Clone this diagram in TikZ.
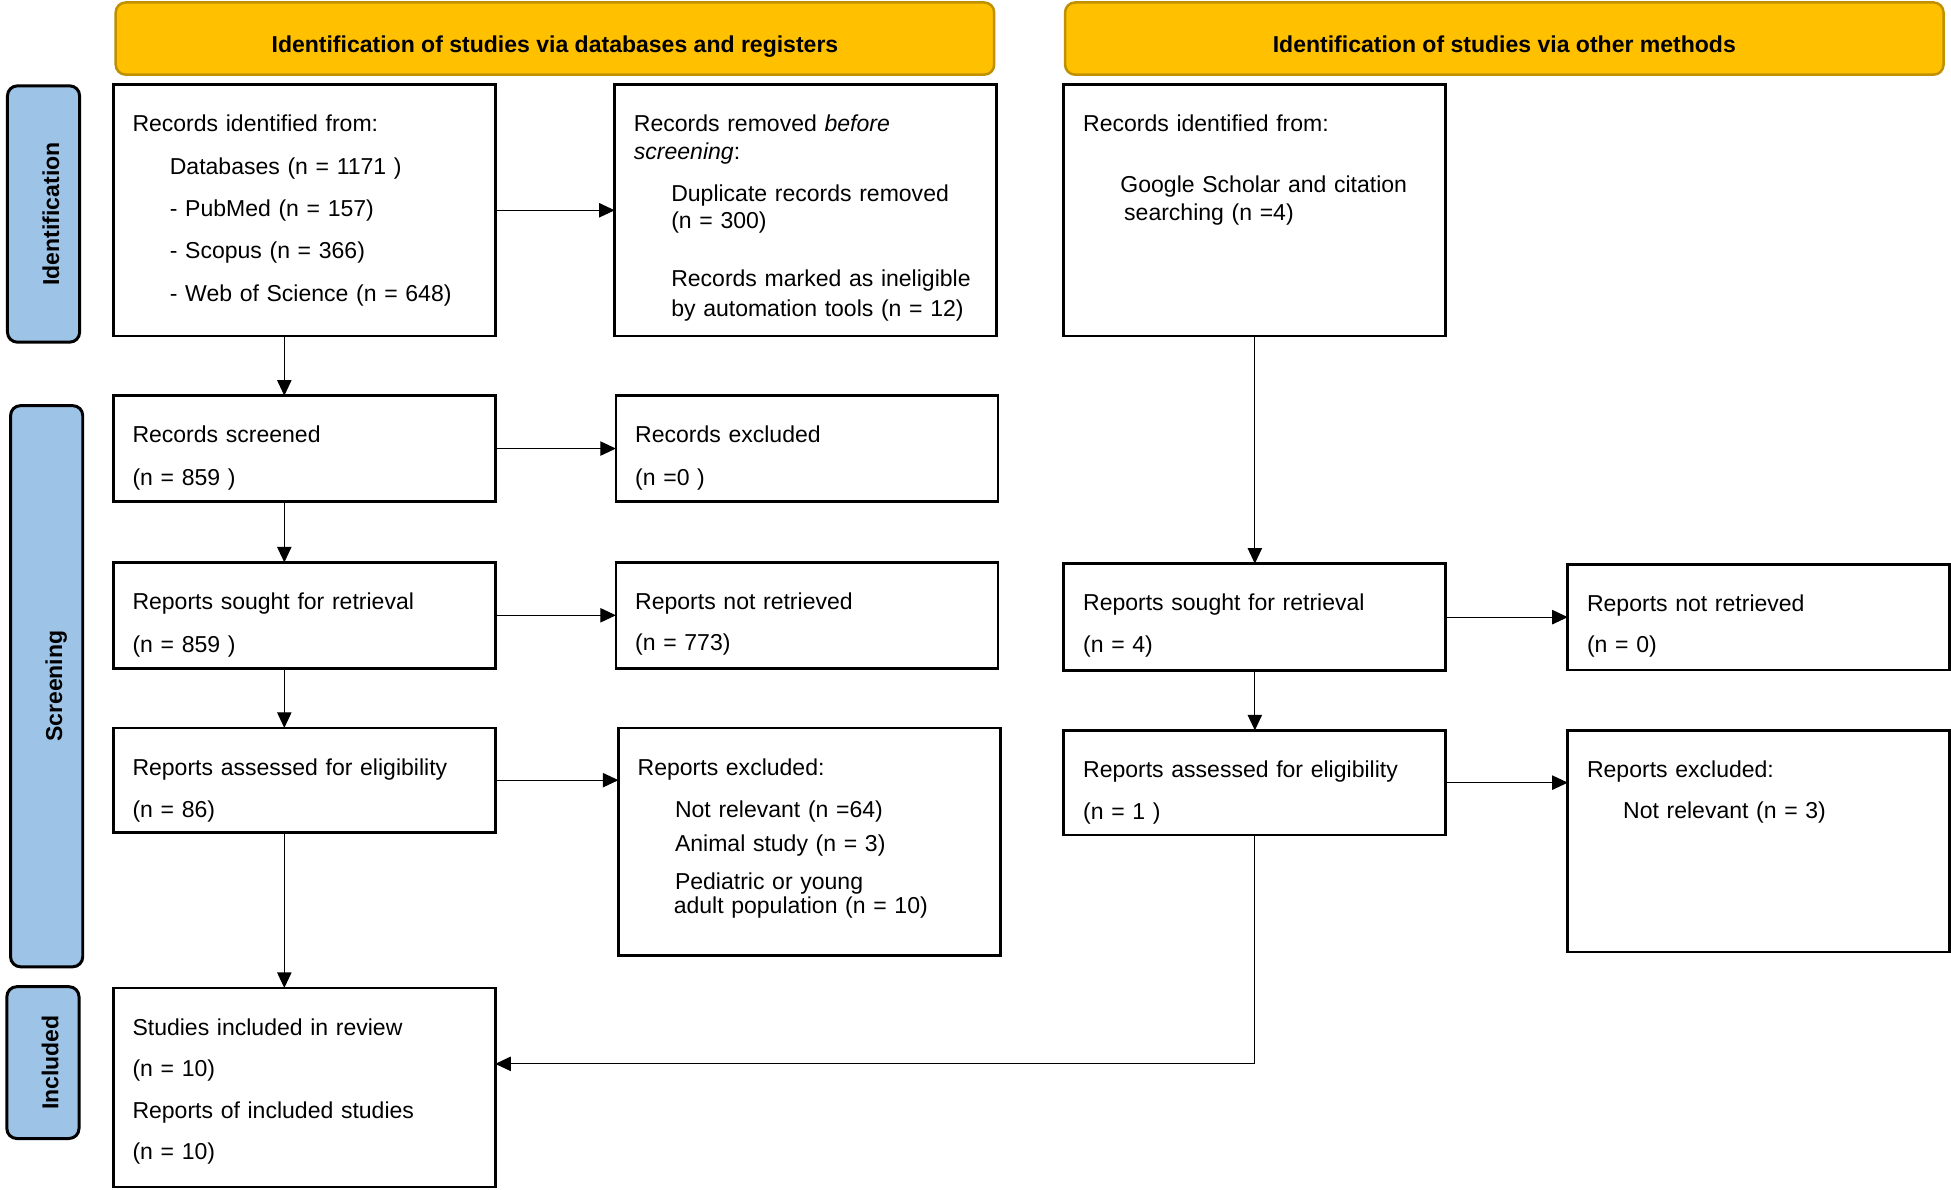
\documentclass[tikz,border=0pt]{standalone}
\usepackage{fontspec}
\setmainfont{Liberation Sans}
\usetikzlibrary{positioning, arrows.meta}
\definecolor{amarillo}{HTML}{FFC000}
\definecolor{dorado}{HTML}{BF9000}
\definecolor{celeste}{HTML}{9DC3E6}
\tikzset{flecha/.style={line width=1pt, -{Triangle[length=12.5pt, width=11.5pt]}}}

\begin{document}
\begin{tikzpicture}[
            x=1pt, y=-1pt,
            caja/.style={draw, line width=2.2pt, align=left, text width=276pt,
                inner xsep=15.5pt, inner ysep=0pt, outer sep=0pt, text height=38pt,
                font=\fontsize{18.5}{22}\selectfont},
            cabecera/.style={draw=dorado, fill=amarillo, line width=2pt, rounded corners=8pt,
                minimum width=706pt, minimum height=58pt, inner sep=0pt,
                text height=23pt, text depth=0pt, font=\fontsize{18.5}{22}\selectfont\bfseries},
            fase/.style={draw, fill=celeste, line width=2.4pt, rounded corners=8pt, rotate=90,
                minimum height=58pt, inner sep=0pt, text height=25pt, text depth=0pt,
                font=\fontsize{18.5}{22}\selectfont\bfseries}
        ]
            \useasboundingbox (0,0) rectangle (1568,955.6);

            \node[cabecera] (bases) at (446,31) {Identification of studies via databases and registers};
            \node[cabecera] (otros) at (1209,31) {Identification of studies via other methods};

            \node[fase, minimum width=206pt] (ident) at (35,172) {Identification};
            \node[fase, minimum width=451pt] (cribado) at (37.5,551.5) {Screening};
            \node[fase, minimum width=122pt] (incl) at (34.5,854) {Included};

            \node[caja, text depth=164pt, anchor=north west] (A) at (91,68) {Records identified from:\\[12pt]
                \hspace*{30pt}Databases (n = 1171 )\\[12pt]
                \hspace*{30pt}- PubMed (n = 157)\\[12pt]
                \hspace*{30pt}- Scopus (n = 366)\\[12pt]
                \hspace*{30pt}- Web of Science (n = 648)};
            \node[caja, text depth=164pt, right= 96pt of A] (B) {Records removed \emph{before}\\
                \emph{screening}:\\[12pt]
                \hspace*{30pt}Duplicate records removed\\
                \hspace*{30pt}(n = 300)\\[24pt]
                \hspace*{30pt}Records marked as ineligible\\[2pt]
                \hspace*{30pt}by automation tools (n = 12)};
            \node[caja, text depth=164pt, right= 54pt of B] (C) {Records identified from:\\[27pt]
                \hspace*{30pt}Google Scholar and citation\\
                \hspace*{33pt}searching (n =4)};

            \node[caja, text depth=47pt, below= 48pt of A] (D) {Records screened\\[12pt] (n = 859 )};
            \node[caja, text depth=47pt, right= 97pt of D] (E) {Records excluded\\[12pt] (n =0 )};
            \node[caja, text depth=47pt, below= 49pt of D] (F) {Reports sought for retrieval\\[12pt] (n = 859 )};
            \node[caja, text depth=47pt, right= 97pt of F] (G) {Reports not retrieved\\[11pt] (n = 773)};
            \node[caja, text depth=46pt, below= 48pt of F] (J) {Reports assessed for eligibility\\[12pt] (n = 86)};
            \node[caja, text depth=145pt, right= 99pt of J.north east, anchor=north west] (K) {Reports excluded:\\[12pt]
                \hspace*{30pt}Not relevant (n =64)\\[5pt]
                \hspace*{30pt}Animal study (n = 3)\\[9pt]
                \hspace*{30pt}Pediatric or young\\[-3pt]
                \hspace*{29pt}adult population (n = 10)};
            \node[caja, text depth=122pt, below= 125pt of J] (N) {Studies included in review\\[11pt]
                (n = 10)\\[12pt]
                Reports of included studies\\[11pt]
                (n = 10)};

            \node[caja, text depth=48pt, below= 183pt of C] (H) {Reports sought for retrieval\\[11pt] (n = 4)};
            \node[caja, text depth=47pt, right= 98pt of H] (I) {Reports not retrieved\\[11pt] (n = 0)};
            \node[caja, text depth=46pt, below= 48pt of H] (L) {Reports assessed for eligibility\\[12pt] (n = 1 )};
            \node[caja, text depth=140pt, right= 98pt of L.north east, anchor=north west] (M) {Reports excluded:\\[11pt]
                \hspace*{29pt}Not relevant (n = 3)};

            \draw[flecha] (A) -- (B);
            \draw[flecha] ([xshift=-16pt]A.south) -- ([xshift=-16pt]D.north);
            \draw[flecha] (D) -- (E);
            \draw[flecha] ([xshift=-16pt]D.south) -- ([xshift=-16pt]F.north);
            \draw[flecha] (F) -- (G);
            \draw[flecha] ([xshift=-16pt]F.south) -- ([xshift=-16pt]J.north);
            \draw[flecha] (J.east) -- (J.east -| K.west);
            \draw[flecha] ([xshift=-16pt]J.south) -- ([xshift=-16pt]N.north);
            \draw[flecha] (C) -- (H);
            \draw[flecha] (H) -- (I);
            \draw[flecha] (H) -- (L);
            \draw[flecha] (L.east) -- (L.east -| M.west);
            \draw[flecha] (L.south) |- ([yshift=19pt]N.east);
        \end{tikzpicture}
\end{document}
